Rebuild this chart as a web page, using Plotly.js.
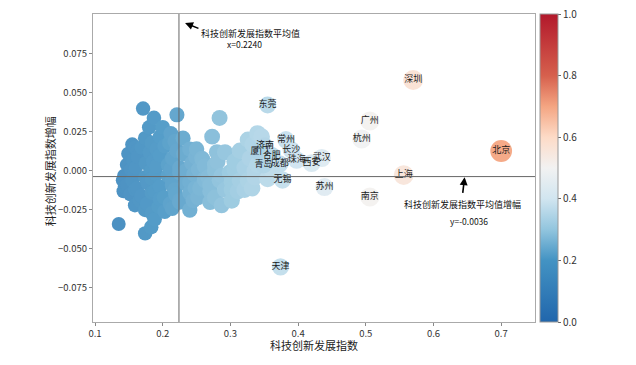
<!DOCTYPE html>
<html>
<head>
<meta charset="utf-8">
<script src="https://cdn.plot.ly/plotly-3.0.1.min.js"></script>
<style>html,body{margin:0;padding:0;background:#fff;}#chart{width:636px;height:365px;}</style>
</head>
<body>
<div id="chart"></div>
<script>
// Named cities
const cityNames = ["东莞","济南","厦门","合肥","常州","长沙","珠海","青岛","成都","武汉","西安","无锡","苏州","天津","杭州","广州","南京","上海","深圳","北京"];
const cityX = [0.355,0.351,0.343,0.361,0.382,0.390,0.398,0.349,0.373,0.435,0.420,0.377,0.439,0.374,0.494,0.506,0.506,0.556,0.570,0.700];
const cityY = [0.0423,0.0160,0.0120,0.0100,0.0200,0.0135,0.0070,0.0038,0.0045,0.0083,0.0050,-0.0058,-0.0103,-0.0615,0.0205,0.0320,-0.0167,-0.0026,0.0583,0.0128];

// Other (unlabelled) cities
const otherX = [
0.171,0.187,0.180,0.221,0.174,0.196,0.230,0.159,0.210,0.200,0.212,
0.155,0.169,0.184,0.203,0.218,0.240,
0.162,0.191,0.221,0.250,
0.149,0.163,0.181,0.196,0.214,0.231,0.249,
0.156,0.186,0.215,0.259,0.281,
0.147,0.160,0.175,0.191,0.208,0.225,0.243,0.262,
0.153,0.183,0.212,0.234,0.253,0.277,0.306,0.336,
0.143,0.158,0.174,0.190,0.208,0.225,0.246,0.267,0.287,
0.155,0.184,0.214,0.240,0.262,0.284,0.302,0.326,
0.147,0.162,0.178,0.196,0.214,0.234,0.255,
0.159,0.188,0.218,0.248,0.270,0.302,0.321,
0.152,0.168,0.184,0.202,0.219,0.240,
0.166,0.196,0.225,0.270,
0.159,0.177,0.194,0.211,0.225,
0.174,0.214,0.240,
0.184,0.203,0.188,0.183,0.174,0.135,0.141,0.142,0.144,
0.284,0.273,0.346,0.333,0.292,0.258,0.314,0.329,0.346,0.306,0.277,0.321,0.340,0.361,
0.299,0.314,0.336,0.355,0.270,0.292,0.311,0.332,0.287,0.277,0.302,0.252,0.245,0.262,0.280,
0.340,0.326];
const otherY = [
0.040,0.034,0.028,0.036,0.021,0.022,0.021,0.015,0.018,0.028,0.024,
0.017,0.015,0.018,0.016,0.019,0.014,
0.013,0.014,0.013,0.014,
0.011,0.009,0.012,0.010,0.008,0.011,0.009,
0.007,0.006,0.008,0.007,0.006,
0.004,0.002,0.005,0.003,0.004,0.002,0.005,0.003,
0.001,0.000,0.001,-0.000,0.001,0.000,0.001,0.000,
-0.003,-0.001,-0.004,-0.002,-0.003,-0.001,-0.002,-0.004,-0.003,
-0.006,-0.005,-0.006,-0.007,-0.005,-0.006,-0.007,-0.006,
-0.009,-0.011,-0.008,-0.010,-0.009,-0.008,-0.011,
-0.012,-0.013,-0.012,-0.011,-0.013,-0.012,-0.012,
-0.015,-0.016,-0.014,-0.017,-0.015,-0.014,
-0.019,-0.018,-0.019,-0.020,
-0.022,-0.021,-0.023,-0.021,-0.020,
-0.025,-0.024,-0.025,
-0.027,-0.026,-0.031,-0.036,-0.040,-0.034,-0.006,-0.013,-0.010,
0.034,0.022,0.022,0.017,0.012,0.008,0.013,0.008,0.013,0.006,0.004,0.002,0.004,0.001,
-0.001,-0.006,-0.004,-0.005,-0.009,-0.012,-0.013,-0.011,-0.022,-0.017,-0.019,-0.017,-0.019,-0.006,0.012,
0.024,0.020];

const meanX = 0.2240;
const meanY = -0.0036;
const xTicks = [0.1,0.2,0.3,0.4,0.5,0.6,0.7];
const yTicks = [-0.075,-0.050,-0.025,0.000,0.025,0.050,0.075];
const cbTicks = [0.0,0.2,0.4,0.6,0.8,1.0];
const xTitle = '科技创新发展指数';
const yTitle = '科技创新发展指数增幅';

const FONT = "Noto Sans CJK SC, DejaVu Sans, sans-serif";
const cscale = [[0,'#2166ac'],[0.2,'#4393c3'],[0.3,'#92c5de'],[0.4,'#d1e5f0'],[0.5,'#f2f2f2'],[0.6,'#fddbc7'],[0.7,'#f4a582'],[0.8,'#d6604d'],[1,'#b2182b']];
// slightly washed version of the same map for the dense cluster (as in the reference)
function lighten(hex, t){
  const n = parseInt(hex.slice(1),16);
  const r=(n>>16)&255, g=(n>>8)&255, b=n&255;
  const f = c => Math.round(c + (255-c)*t);
  return 'rgb('+f(r)+','+f(g)+','+f(b)+')';
}
const cscaleSoft = cscale.map(([p,c]) => [p, lighten(c, 0.1)]);
const sizeOf = x => 12 + 14 * x;

// draw lighter (higher x) points above darker
const idx = otherX.map((v,i)=>i).sort((a,b)=>otherX[a]-otherX[b]);
const ox = idx.map(i=>otherX[i]), oy = idx.map(i=>otherY[i]);

const traces = [
  {
    type:'scatter', mode:'markers', x: ox, y: oy, hoverinfo:'skip',
    marker:{color: ox, colorscale: cscaleSoft, cmin:0, cmax:1, size: ox.map(sizeOf), opacity:1, line:{width:0}, showscale:false}
  },
  {
    type:'scatter', mode:'markers+text', x: cityX, y: cityY, text: cityNames, textposition:'middle center',
    textfont:{family:FONT, size:9, color:'#1a1a1a'}, hoverinfo:'skip',
    marker:{color: cityX, colorscale: cscale, cmin:0, cmax:1, size: cityX.map(sizeOf), opacity:0.95, line:{width:0}, showscale:true,
      colorbar:{x:1.011, xanchor:'left', xpad:0, ypad:0, y:0.5, yanchor:'middle', len:1, lenmode:'fraction', thickness:18,
        outlinewidth:1, outlinecolor:'#999', tickvals: cbTicks, tickformat:'.1f', ticks:'outside', ticklen:3, tickcolor:'#666',
        tickfont:{family:FONT, size:10, color:'#333'}}}
  }
];

const layout = {
  width:636, height:365,
  margin:{l:93, r:101, t:14, b:43},
  paper_bgcolor:'#fff', plot_bgcolor:'#fff',
  showlegend:false,
  font:{family:FONT, color:'#333'},
  xaxis:{range:[0.097,0.75], tickvals:xTicks, tickformat:'.1f', showgrid:false, zeroline:false,
    showline:true, mirror:true, linecolor:'#aaa', linewidth:1, ticks:'outside', ticklen:3, tickcolor:'#888',
    tickfont:{family:FONT, size:9.5, color:'#333'}},
  yaxis:{range:[-0.0968,0.1006], tickvals:yTicks, tickformat:'.3f', showgrid:false, zeroline:false,
    showline:true, mirror:true, linecolor:'#aaa', linewidth:1, ticks:'outside', ticklen:3, tickcolor:'#888',
    tickfont:{family:FONT, size:9.5, color:'#333'}},
  shapes:[
    {type:'line', xref:'x', yref:'paper', x0:meanX, x1:meanX, y0:0, y1:1, line:{color:'#666', width:1}},
    {type:'line', xref:'paper', yref:'y', x0:0, x1:1, y0:meanY, y1:meanY, line:{color:'#666', width:1}}
  ],
  annotations:[
    {x:0.5, y:-0.074, xref:'paper', yref:'paper', xanchor:'center', yanchor:'middle', text:xTitle, showarrow:false,
      font:{family:FONT, size:11, color:'#222'}},
    {x:-0.097, y:0.49, xref:'paper', yref:'paper', xanchor:'center', yanchor:'middle', text:yTitle, textangle:-90, showarrow:false,
      font:{family:FONT, size:11, color:'#222'}},
    {x:0.233, y:0.0949, ax:0.255, ay:0.0910, xref:'x', yref:'y', axref:'x', ayref:'y', text:'', showarrow:true,
      arrowhead:2, arrowsize:1, arrowwidth:1.6, arrowcolor:'#000'},
    {x:0.330, y:0.0878, xref:'x', yref:'y', text:'科技创新发展指数平均值', showarrow:false, font:{family:FONT, size:9, color:'#111'}},
    {x:0.321, y:0.0814, xref:'x', yref:'y', text:'x=0.2240', showarrow:false, font:{family:FONT, size:8.5, color:'#111'}},
    {x:0.646, y:-0.0040, ax:0.643, ay:-0.0150, xref:'x', yref:'y', axref:'x', ayref:'y', text:'', showarrow:true,
      arrowhead:2, arrowsize:1, arrowwidth:1.6, arrowcolor:'#000'},
    {x:0.643, y:-0.0212, xref:'x', yref:'y', text:'科技创新发展指数平均值增幅', showarrow:false, font:{family:FONT, size:9, color:'#111'}},
    {x:0.653, y:-0.0320, xref:'x', yref:'y', text:'y=-0.0036', showarrow:false, font:{family:FONT, size:8.5, color:'#111'}}
  ]
};

Plotly.newPlot('chart', traces, layout, {displayModeBar:false, staticPlot:true});
</script>
</body>
</html>
